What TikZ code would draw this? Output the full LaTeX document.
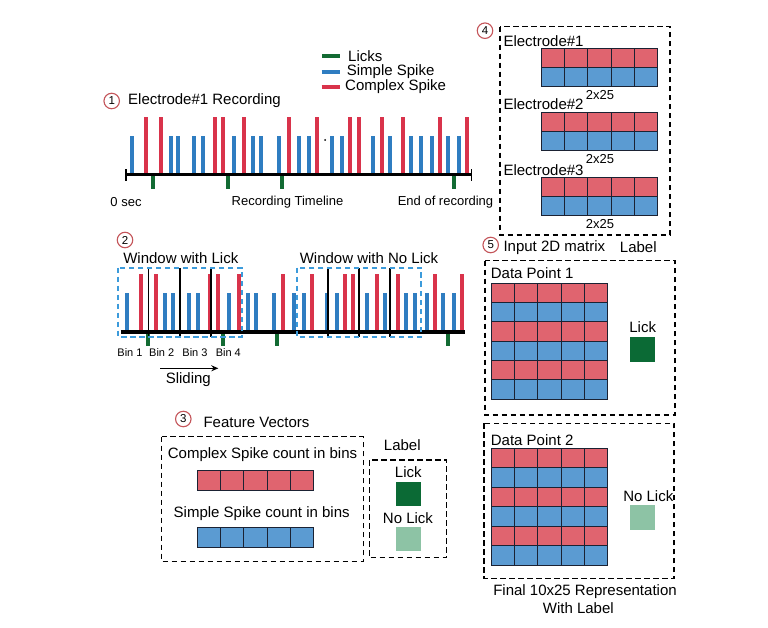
\documentclass[tikz,border=0pt]{standalone}
\usepackage{fontspec}
\setmainfont{Liberation Sans}
\usetikzlibrary{arrows.meta}

\definecolor{spkblue}{HTML}{2F7DC1}
\definecolor{spkred}{HTML}{D9334B}
\definecolor{lickgreen}{HTML}{136B33}
\definecolor{cellred}{HTML}{E0646F}
\definecolor{cellblue}{HTML}{5B9BD2}
\definecolor{darklick}{HTML}{0B6A35}
\definecolor{lightlick}{HTML}{8DC3A5}
\definecolor{numring}{HTML}{C4555A}
\definecolor{winblue}{HTML}{3C9BDB}
\definecolor{gridline}{HTML}{1B2233}

% one recording strip: origin x, axis y
\newcommand{\spikestrip}[2]{%
  \foreach \dx in {6.3,44.7,52.3,68,77.3,108,127.3,135,153,173.3,183,206.3,216,246.7,264,285,294.7,306.3,322.3,333.3}
    \draw[spikeB] (#1+\dx,#2) -- ++(0,-39);
  \foreach \dx in {20,35,89,97,118,162.7,191,224,232.7,256,277.3,314,341.3}
    \draw[spikeR] (#1+\dx,#2) -- ++(0,-58);
  \foreach \dx in {27,102,156,327.5}
    \draw[lick] (#1+\dx,#2) -- ++(0,14);
}
% one row of five cells: x, y, style, height
\newcommand{\cellrow}[4]{%
  \foreach \i in {0,...,4}
    \draw[#3] (#1+\i*23.12,#2) rectangle ++(23.12,#4);
}

\begin{document}
\begin{tikzpicture}[x=1pt,y=-1pt,
  spikeB/.style={draw=spkblue,line width=4pt},
  spikeR/.style={draw=spkred,line width=4pt},
  lick/.style={draw=lickgreen,line width=4pt},
  numc/.style={draw=numring,circle,fill=white,line width=1.1pt,minimum size=15.5pt,inner sep=0pt,font=\fontsize{11.5}{11.5}\selectfont},
  dashbox/.style={draw=black,line width=1.4pt,dash pattern=on 5.5pt off 3.5pt},
  win/.style={draw=winblue,line width=1.9pt,dash pattern=on 5.5pt off 3.5pt},
  binline/.style={draw=black,line width=1.1pt},
  cellR/.style={fill=cellred,draw=gridline,line width=1pt},
  cellB/.style={fill=cellblue,draw=gridline,line width=1pt},
  labmain/.style={font=\fontsize{15}{18}\selectfont,inner sep=0pt},
  labsmall/.style={font=\fontsize{13}{15}\selectfont,inner sep=0pt},
  labtiny/.style={font=\fontsize{11}{13}\selectfont,inner sep=0pt}]
\useasboundingbox (0,0) rectangle (768,628);

% legend
\node[labmain,anchor=west] (lgLick) at (348,55.7) {Licks};
\node[labmain,anchor=west] (lgSimple) at (346.7,71.7) {Simple Spike};
\node[labmain,anchor=west] (lgComplex) at (345,86.7) {Complex Spike};
\draw[lick] ([xshift=-26pt]lgLick.west) -- ([xshift=-8pt]lgLick.west);
\draw[spikeB] ([xshift=-25pt]lgSimple.west) -- ([xshift=-6.7pt]lgSimple.west);
\draw[spikeR] ([xshift=-23.3pt]lgComplex.west) -- ([xshift=-5pt]lgComplex.west);

% 1: recording
\node[numc] (n1) at (111.7,101) {1};
\node[labmain,anchor=west] (t1) at (128,101) {Electrode\#1 Recording};
\spikestrip{126}{175}
\coordinate (rec0) at (126,175);
\coordinate (rec1) at (471.7,175);
\draw[line width=3pt] (rec0) -- (rec1);
\draw[line width=1.5pt] ([yshift=-6pt]rec0) -- ([yshift=6pt]rec0);
\draw[line width=1.5pt] ([yshift=-6pt]rec1) -- ([yshift=6pt]rec1);
\fill (325,140) circle (1);
\node[labsmall] (zero) at (126,201.7) {0 sec};
\node[labsmall] (timeline) at (287.5,201.7) {Recording Timeline};
\node[labsmall] (endrec) at (445.5,201.7) {End of recording};

% 2: windows and bins
\node[numc] (n2) at (125,240) {2};
\node[labmain] (wLick) at (180.8,257.7) {Window with Lick};
\node[labmain] (wNoLick) at (369,257.7) {Window with No Lick};
\spikestrip{120.5}{331.7}
\coordinate (ax0) at (120.5,331.7);
\coordinate (ax1) at (465,331.7);
\draw[line width=4pt] (ax0) -- (ax1);
\foreach \bx in {148.5,180,211,328,359,390}
  \draw[binline] (\bx,268) -- (\bx,336.5);
\draw[win] (118.3,267.7) rectangle (241.7,336.7);
\draw[win] (296.7,267.7) rectangle (421,336.7);
\node[labtiny] (bin1) at (130,352.7) {Bin 1};
\node[labtiny] (bin2) at (161.7,352.7) {Bin 2};
\node[labtiny] (bin3) at (195,352.7) {Bin 3};
\node[labtiny] (bin4) at (228.3,352.7) {Bin 4};
\coordinate (slideA) at (160,368.3);
\coordinate (slideB) at (218.3,368.3);
\draw[line width=1.4pt,-{Stealth[length=7pt,width=6pt]}] (slideA) -- (slideB);
\node[labmain] (sliding) at (188.3,379.5) {Sliding};

% 3: feature vectors
\node[numc] (n3) at (183.3,419) {3};
\node[labmain,anchor=west] (t3) at (203.3,422.5) {Feature Vectors};
\draw[dashbox] (161.7,436.7) rectangle (363.3,561.7);
\node[labmain] (cxCount) at (262.5,455) {Complex Spike count in bins};
\cellrow{197.7}{470}{cellR}{20}
\node[labmain] (smCount) at (261.7,513.3) {Simple Spike count in bins};
\cellrow{197.7}{527.7}{cellB}{20}
\node[labmain] (lab3) at (402.3,445) {Label};
\draw[dashbox] (369.3,460) rectangle (446.7,557.7);
\node[labmain] (lick3) at (408.3,471.7) {Lick};
\fill[darklick] (396,482.3) rectangle (420.7,506);
\node[labmain] (nolick3) at (408,517.7) {No Lick};
\fill[lightlick] (396,526.7) rectangle (420.7,550.7);

% 4: electrodes
\node[numc] (n4) at (485,30.7) {4};
\draw[dashbox] (500,26.7) rectangle (670,235);
\node[labmain,anchor=west] (el1) at (503.3,41) {Electrode\#1};
\cellrow{541.7}{49}{cellR}{19}
\cellrow{541.7}{68}{cellB}{19}
\node[labsmall] (dim1) at (600,95) {2x25};
\node[labmain,anchor=west] (el2) at (503.3,104.3) {Electrode\#2};
\cellrow{541.7}{113}{cellR}{19}
\cellrow{541.7}{132}{cellB}{19}
\node[labsmall] (dim2) at (600,159) {2x25};
\node[labmain,anchor=west] (el3) at (503.3,170) {Electrode\#3};
\cellrow{541.7}{177.5}{cellR}{19}
\cellrow{541.7}{196.5}{cellB}{19}
\node[labsmall] (dim3) at (600,224) {2x25};

% 5: input matrices
\node[numc] (n5) at (490.7,245) {5};
\node[labmain,anchor=west] (t5) at (503.3,247.3) {Input 2D matrix};
\node[labmain] (lab5) at (638.3,247.3) {Label};
\draw[dashbox] (485,260.7) rectangle (675,415);
\node[labmain,anchor=west] (dp1) at (490.7,272.7) {Data Point 1};
\foreach \r in {0,2,4} {
  \cellrow{491.7}{283.3+\r*19.33}{cellR}{19.33}
  \cellrow{491.7}{283.3+\r*19.33+19.33}{cellB}{19.33}
}
\node[labmain] (lick5) at (642.7,327.3) {Lick};
\fill[darklick] (630,337.3) rectangle (655,362.3);
\draw[dashbox] (484,423.3) rectangle (674,578.3);
\node[labmain,anchor=west] (dp2) at (490.7,440) {Data Point 2};
\foreach \r in {0,2,4} {
  \cellrow{491.7}{448.3+\r*19.45}{cellR}{19.45}
  \cellrow{491.7}{448.3+\r*19.45+19.45}{cellB}{19.45}
}
\node[labmain] (nolick5) at (648.3,495.7) {No Lick};
\fill[lightlick] (630,505) rectangle (655,530);
\node[labmain] (final1) at (585,591.7) {Final 10x25 Representation};
\node[labmain] (final2) at (578.3,607.7) {With Label};
\end{tikzpicture}
\end{document}
